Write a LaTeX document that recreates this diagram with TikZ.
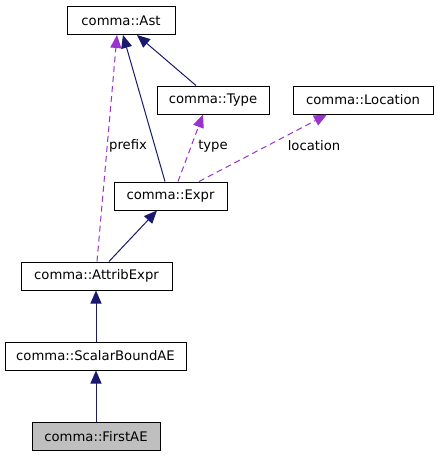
\documentclass[tikz,border=0pt]{standalone}
\usepackage{fontspec}
\setmainfont{DejaVu Sans}
\usetikzlibrary{arrows.meta}
\definecolor{navy}{HTML}{191970}
\definecolor{orchid}{HTML}{9A32CD}
\begin{document}
\begin{tikzpicture}[x=1pt,y=-1pt,
  cls/.style={draw=black,line width=1pt,fill=white,inner sep=0pt,minimum height=28pt,font=\fontsize{13.2}{15}\selectfont},
  inh/.style={draw=navy,line width=1pt,-{Triangle[length=13pt,width=11pt,fill=navy]}},
  use/.style={draw=orchid,line width=1pt,dash pattern=on 6pt off 4pt,-{Triangle[length=13pt,width=11pt,fill=orchid]}},
  lbl/.style={font=\fontsize{13.2}{15}\selectfont,inner sep=0pt}]
\useasboundingbox[fill=white] (0,0) rectangle (437,456);
\node[cls,minimum width=108pt] (ast) at (121,20.5) {comma::Ast};
\node[cls,minimum width=112pt] (type) at (213,100) {comma::Type};
\node[cls,minimum width=140pt] (loc) at (363,100) {comma::Location};
\node[cls,minimum width=113pt] (expr) at (170.5,196) {comma::Expr};
\node[cls,minimum width=151pt] (attr) at (96.5,276) {comma::AttribExpr};
\node[cls,minimum width=181pt] (sbae) at (95.5,356) {comma::ScalarBoundAE};
\node[cls,minimum width=128pt,fill={rgb,255:red,191;green,191;blue,191}] (first) at (96,436.5) {comma::FirstAE};
\draw[inh] ([xshift=-17pt]type.north) -- ([xshift=16pt]ast.south);
\draw[inh] ([xshift=-5.5pt]expr.north) -- ([xshift=2pt]ast.south);
\draw[use] ([xshift=0.5pt]attr.north) -- ([xshift=-4pt]ast.south);
\draw[use] ([xshift=7.5pt]expr.north) -- ([xshift=-10pt]type.south);
\draw[use] ([xshift=28.5pt]expr.north) -- ([xshift=-36pt]loc.south);
\draw[inh] ([xshift=12.5pt]attr.north) -- ([xshift=-13.5pt]expr.south);
\draw[inh] ([xshift=0.5pt]sbae.north) -- ([xshift=-0.5pt]attr.south);
\draw[inh] (first.north) -- ([xshift=0.5pt]sbae.south);
\node[lbl] (lprefix) at (128,146) {prefix};
\node[lbl] (ltype) at (213,146) {type};
\node[lbl] (lloc) at (314,146) {location};
\end{tikzpicture}
\end{document}
